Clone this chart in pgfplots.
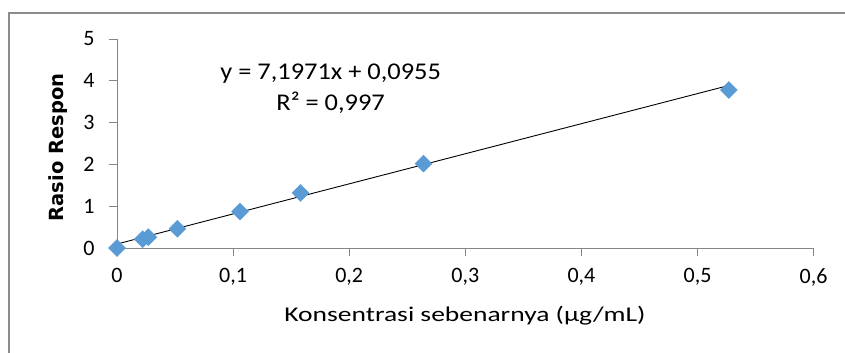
\documentclass[border=0pt]{standalone}
\usepackage{pgfplots}
\pgfplotsset{compat=1.18}
\usepackage{fontspec}
\setmainfont{Carlito}
\newfontfamily\dejavu{DejaVu Sans}
\definecolor{ptblue}{HTML}{5B9BD5}
\definecolor{axgray}{HTML}{868686}
\definecolor{framegray}{HTML}{8C8C8C}
\begin{document}
\begin{tikzpicture}[x=1bp,y=1bp]
\useasboundingbox (0,0) rectangle (845,352);
\draw[framegray, line width=1.6bp] (9,-5) -- (9,339) -- (850,339);
\begin{axis}[
  at={(117bp,104bp)}, anchor=origin,
  scale only axis, width=696.6bp, height=209bp,
  xmin=0, xmax=0.6, ymin=0, ymax=5,
  xtick={0,0.1,...,0.6}, ytick={0,1,...,5},
  axis x line*=bottom, axis y line*=left,
  axis line style={axgray, line width=0.8bp, -},
  tick style={axgray, line width=0.8bp},
  major tick length=8bp,
  tick align=outside,
  /pgf/number format/.cd, use comma, fixed, precision=1, assume math mode=true,
  /pgfplots/.cd,
  ticklabel style={font=\fontsize{22bp}{26bp}\selectfont},
  xticklabel style={yshift=-9bp},
  yticklabel style={xshift=-11bp},
  clip=false,
]
\addplot[black, line width=0.9bp] coordinates {(0,0.0955) (0.527,3.8884)};
\addplot[only marks, mark=square*, mark size=6bp, mark options={rotate=45, fill=ptblue, draw=ptblue}] coordinates {
(0,0.00) (0.022,0.21) (0.027,0.26) (0.052,0.46) (0.106,0.87) (0.158,1.32) (0.264,2.02) (0.527,3.78)
};
\node[font=\fontsize{24bp}{28bp}\selectfont] at (axis cs:0.184,4.18) {\scalebox{1.1}[1]{y = 7,1971x + 0,0955}};
\node[font=\fontsize{24bp}{28bp}\selectfont] at (axis cs:0.184,3.48) {\scalebox{1.1}[1]{R² = 0,997}};
\end{axis}
\node[font=\fontsize{21bp}{25bp}\selectfont] at (465,36) {\scalebox{1.31}[1]{Konsentrasi sebenarnya (µg/mL)}};
\node[font=\fontsize{19.5bp}{23bp}\selectfont\dejavu\bfseries, rotate=90] at (58,204.5) {Rasio Respon};
\end{tikzpicture}
\end{document}
